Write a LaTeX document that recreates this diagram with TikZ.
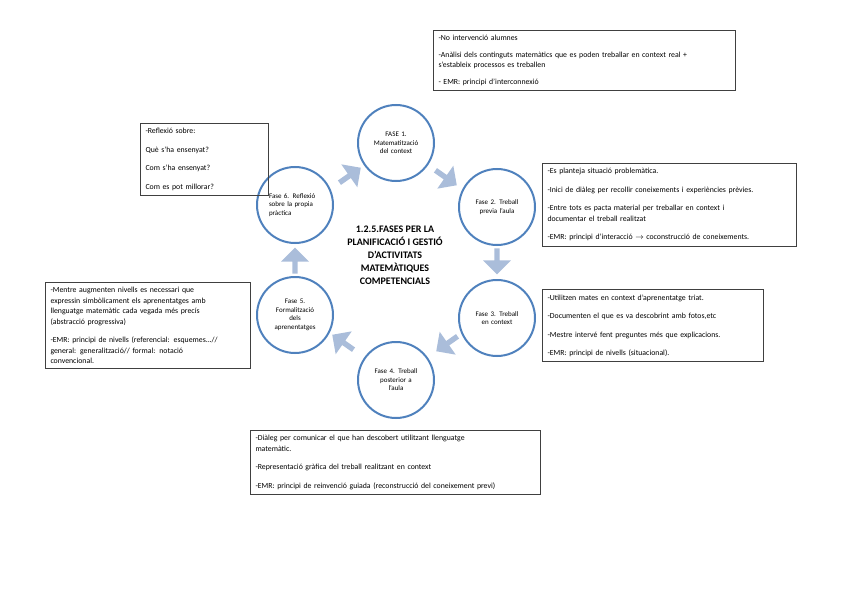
\documentclass[tikz,border=0pt]{standalone}
\usepackage{fontspec}
\setmainfont{Carlito}
\usetikzlibrary{shapes.arrows}

\begin{document}
\begin{tikzpicture}[
    x=1pt, y=-1pt,
    fase/.style={
        draw=faseblue,
        circle,
        line width=2pt,
        minimum size=76pt,
        align=center,
        text width=52pt,
        font=\fontsize{7}{8.5}\selectfont
    },
    box/.style={
        draw=black!75,
        line width=1pt,
        rectangle,
        anchor=north west,
        align=left,
        inner sep=5pt,
        font=\fontsize{7.8}{10.5}\selectfont
    },
    flow/.style={
        single arrow,
        fill=flowblue,
        minimum height=26pt,
        minimum width=28pt,
        single arrow head extend=5pt,
        inner sep=1pt
    }
]
\definecolor{faseblue}{RGB}{79,129,189}
\definecolor{flowblue}{RGB}{170,189,218}
\useasboundingbox (0,0) rectangle (848,599);

% Phases
\node[fase] (f1) at (396,143) {FASE 1.\\ Matematització\\ del context};
\node[fase] (f2) at (497,207) {Fase 2. Treball\\ previa l'aula};
\node[fase] (f3) at (497,318) {Fase 3. Treball\\ en context};
\node[fase] (f4) at (396,380) {Fase 4. Treball\\ posterior a\\ l'aula};
\node[fase] (f5) at (295,315) {Fase 5.\\ Formalització\\ dels\\ aprenentatges};
\node[fase, align=left] (f6) at (295,205) {Fase 6. Reflexió\\ sobre la propia\\ pràctica};

% Title
\node[align=center, font=\bfseries\fontsize{10}{13}\selectfont] (title) at (395,255)
    {1.2.5.FASES PER LA\\ PLANIFICACIÓ I GESTIÓ\\ D'ACTIVITATS\\ MATEMÀTIQUES\\ COMPETENCIALS};

% Arrows
\node[flow, rotate=35] (a61) at (349,176) {};
\node[flow, rotate=-35] (a12) at (445,177) {};
\node[flow, rotate=-90] (a23) at (497,260) {};
\node[flow, rotate=-145] (a34) at (448,343) {};
\node[flow, rotate=145] (a45) at (344,343) {};
\node[flow, rotate=90] (a56) at (295,262) {};

% Notes
\node[box, text width=292pt] (n1) at (433,30) {%
-No intervenció alumnes\\[6pt]
-Anàlisi dels continguts matemàtics que es poden treballar en context real +\\ s'estableix processos es treballen\\[6pt]
- EMR: principi d'interconnexió\\[8pt]};

\node[box, text width=244pt] (n2) at (542,163) {%
-Es planteja situació problemàtica.\\[8pt]
-Inici de diàleg per recollir coneixements i experiències prèvies.\\[8pt]
-Entre tots es pacta material per treballar en context i\\ documentar el treball realitzat\\[8pt]
-EMR: principi d'interacció $\rightarrow$ coconstrucció de coneixements.};

\node[box, text width=211pt] (n3) at (542,289) {%
-Utilitzen mates en context d'aprenentatge triat.\\[8pt]
-Documenten el que es va descobrint amb fotos,etc\\[8pt]
-Mestre intervé fent preguntes més que explicacions.\\[8pt]
-EMR: principi de nivells (situacional).};

\node[box, text width=280pt] (n4) at (250,430) {%
-Diàleg per comunicar el que han descobert utilitzant llenguatge\\ matemàtic.\\[8pt]
-Representació gràfica del treball realitzant en context\\[8pt]
-EMR: principi de reinvenció guiada (reconstrucció del coneixement previ)\\[2pt]};

\node[box, text width=195pt] (n5) at (45,282) {%
-Mentre augmenten nivells es necessari que\\ expressin simbòlicament els aprenentatges amb\\ llenguatge matemàtic cada vegada més precís\\ (abstracció progressiva)\\[8pt]
-EMR: principi de nivells (referencial: esquemes...//\\ general: generalització// formal: notació\\ convencional.\\[2pt]};

\node[box, text width=118pt] (n6) at (140,123) {%
-Reflexió sobre:\\[8pt]
Què s'ha ensenyat?\\[8pt]
Com s'ha ensenyat?\\[8pt]
Com es pot millorar?\\[6pt]};
\end{tikzpicture}
\end{document}
